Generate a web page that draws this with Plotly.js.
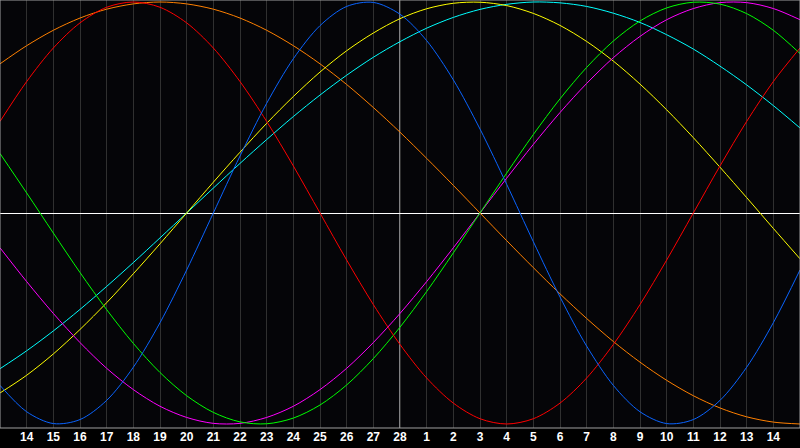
<!DOCTYPE html>
<html><head><meta charset="utf-8">
<script src="https://cdn.plot.ly/plotly-3.0.1.min.js"></script>
<style>html,body{margin:0;padding:0;background:#000;}#chart{width:800px;height:448px;}</style>
</head><body><div id="chart"></div>
<script>
// day index 0..30 (index 1 = "14", index 15 = "28" = today, index 29 = "14")
const dayIndex = [0,1,2,3,4,5,6,7,8,9,10,11,12,13,14,15,16,17,18,19,20,21,22,23,24,25,26,27,28,29,30];
const tickPos = [1,2,3,4,5,6,7,8,9,10,11,12,13,14,15,16,17,18,19,20,21,22,23,24,25,26,27,28,29];
const tickLabels = ['14','15','16','17','18','19','20','21','22','23','24','25','26','27','28','1','2','3','4','5','6','7','8','9','10','11','12','13','14'];
const todayPos = 15;

const physical = [-0.817,-0.942,-0.998,-0.979,-0.888,-0.731,-0.520,-0.270,0.000,0.270,0.520,0.731,0.888,0.979,0.998,0.942,0.817,0.631,0.398,0.136,-0.136,-0.398,-0.631,-0.817,-0.942,-0.998,-0.979,-0.888,-0.731,-0.520,-0.270];
const emotional = [0.434,0.623,0.782,0.901,0.975,1.000,0.975,0.901,0.782,0.623,0.434,0.223,0.000,-0.223,-0.434,-0.623,-0.782,-0.901,-0.975,-1.000,-0.975,-0.901,-0.782,-0.623,-0.434,-0.223,0.000,0.223,0.434,0.623,0.782];
const intellectual = [0.282,0.095,-0.095,-0.282,-0.458,-0.618,-0.756,-0.866,-0.945,-0.990,-0.999,-0.972,-0.910,-0.815,-0.690,-0.541,-0.372,-0.189,0.000,0.189,0.372,0.541,0.690,0.815,0.910,0.972,0.999,0.990,0.945,0.866,0.756];
const intuitive = [-0.165,-0.325,-0.476,-0.614,-0.736,-0.837,-0.916,-0.969,-0.997,-0.997,-0.969,-0.916,-0.837,-0.736,-0.614,-0.476,-0.325,-0.165,0.000,0.165,0.325,0.476,0.614,0.736,0.837,0.916,0.969,0.997,0.997,0.969,0.916];
const aesthetic = [-0.853,-0.769,-0.668,-0.552,-0.425,-0.288,-0.146,0.000,0.146,0.288,0.425,0.552,0.668,0.769,0.853,0.921,0.968,0.994,0.999,0.983,0.946,0.889,0.813,0.720,0.611,0.489,0.357,0.217,0.073,-0.073,-0.217];
const awareness = [0.707,0.793,0.866,0.924,0.966,0.991,1.000,0.991,0.966,0.924,0.866,0.793,0.707,0.609,0.500,0.383,0.259,0.131,0.000,-0.131,-0.259,-0.383,-0.500,-0.609,-0.707,-0.793,-0.866,-0.924,-0.966,-0.991,-1.000];
const spiritual = [-0.738,-0.653,-0.559,-0.457,-0.348,-0.235,-0.118,0.000,0.118,0.235,0.348,0.457,0.559,0.653,0.738,0.812,0.876,0.927,0.965,0.989,1.000,0.996,0.979,0.947,0.903,0.845,0.777,0.696,0.607,0.509,0.403];

const series = [
  {name:'Awareness', y: awareness, color:'#ff8000'},
  {name:'Spiritual', y: spiritual, color:'#00ffff'},
  {name:'Aesthetic', y: aesthetic, color:'#ffff00'},
  {name:'Intuitive', y: intuitive, color:'#ff00ff'},
  {name:'Intellectual', y: intellectual, color:'#00ff00'},
  {name:'Emotional', y: emotional, color:'#ff0000'},
  {name:'Physical', y: physical, color:'#0a64ff'}
];

const traces = series.map(s => ({
  x: dayIndex, y: s.y, name: s.name, type:'scatter', mode:'lines',
  line:{color:s.color, width:1, shape:'spline', smoothing:0.9},
  hoverinfo:'skip'
}));

const layout = {
  width:800, height:448,
  margin:{l:0, r:0, t:0, b:20, pad:0},
  paper_bgcolor:'#000000', plot_bgcolor:'#050508',
  showlegend:false,
  xaxis:{range:[0,30], tickvals:tickPos, ticktext:tickLabels, showgrid:true, gridcolor:'#303030', gridwidth:1,
         zeroline:false, ticks:'', showline:false,
         tickfont:{family:'Liberation Sans, Arial, sans-serif', size:12, color:'#ffffff', weight:'bold'}, fixedrange:true},
  yaxis:{range:[-1.019,1.0095], showgrid:false, showticklabels:false, ticks:'', zeroline:true, zerolinecolor:'#ffffff', zerolinewidth:1, showline:false, fixedrange:true},
  shapes:[
    {type:'line', xref:'x', yref:'paper', x0:todayPos, x1:todayPos, y0:0, y1:1, line:{color:'#ffffff', width:1}, layer:'below'},
    {type:'rect', xref:'paper', yref:'paper', x0:0, x1:1, y0:0, y1:1, line:{color:'#a0a0a0', width:1}, fillcolor:'rgba(0,0,0,0)'}
  ]
};
Plotly.newPlot('chart', traces, layout, {displayModeBar:false, staticPlot:true});
</script></body></html>
